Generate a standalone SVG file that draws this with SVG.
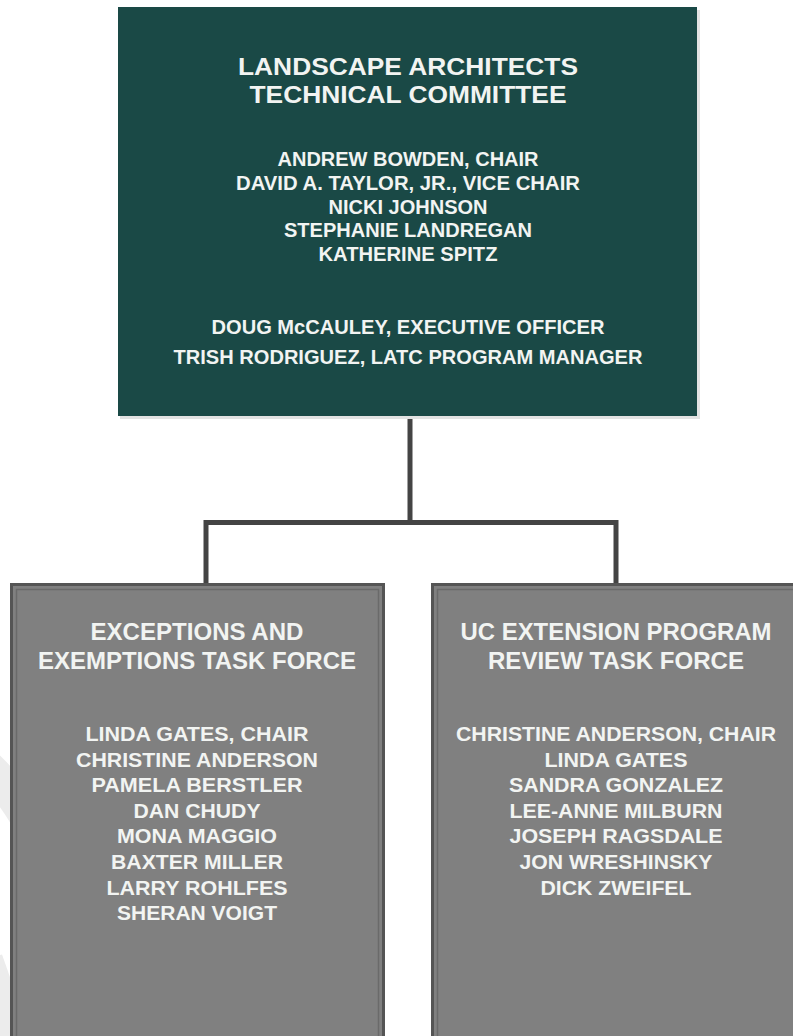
<svg xmlns="http://www.w3.org/2000/svg" width="793" height="1036" viewBox="0 0 793 1036">
<style>
text{font-family:"Liberation Sans",Arial,sans-serif;font-weight:bold;fill:#f2f4f2;text-anchor:middle}
.t1{font-size:24px}
.n1{font-size:20px}
.t2{font-size:23px}
.n2{font-size:20px}
.conn{fill:none;stroke:#444;stroke-width:5;stroke-linecap:butt;stroke-linejoin:miter}
.gbox{fill:#808080;stroke:#555;stroke-width:3}
.ginner{fill:none;stroke:#6a6a6a;stroke-width:1.5}
.wm{fill:none;stroke:#ececec;stroke-width:34}
</style>
<rect width="793" height="1036" fill="#ffffff"/>
<path class="wm" d="M -20 760 A 230 230 0 0 1 40 1020"/>
<path class="wm" d="M -14 960 L 14 1040"/>
<g id="connectors">
<path class="conn" d="M410 416 V522.5 M204 522.5 H618 M206 520 V583 M616 520 V583"/>
</g>
<g id="latc">
<rect x="120" y="10" width="580" height="409" fill="#e2e2e2"/>
<rect x="118" y="7" width="579" height="409" fill="#1a4946"/>
<text class="t1" x="408" y="75" textLength="340" lengthAdjust="spacingAndGlyphs">LANDSCAPE ARCHITECTS</text>
<text class="t1" x="408" y="103" textLength="317" lengthAdjust="spacingAndGlyphs">TECHNICAL COMMITTEE</text>
<text class="n1" x="408" y="166" textLength="261" lengthAdjust="spacingAndGlyphs">ANDREW BOWDEN, CHAIR</text>
<text class="n1" x="408" y="190" textLength="344" lengthAdjust="spacingAndGlyphs">DAVID A. TAYLOR, JR., VICE CHAIR</text>
<text class="n1" x="408" y="213.5" textLength="159" lengthAdjust="spacingAndGlyphs">NICKI JOHNSON</text>
<text class="n1" x="408" y="237" textLength="248" lengthAdjust="spacingAndGlyphs">STEPHANIE LANDREGAN</text>
<text class="n1" x="408" y="261" textLength="179" lengthAdjust="spacingAndGlyphs">KATHERINE SPITZ</text>
<text class="n1" x="408" y="334" textLength="393" lengthAdjust="spacingAndGlyphs">DOUG McCAULEY, EXECUTIVE OFFICER</text>
<text class="n1" x="408" y="364" textLength="469" lengthAdjust="spacingAndGlyphs">TRISH RODRIGUEZ, LATC PROGRAM MANAGER</text>
</g>
<g id="exceptions-task-force">
<rect class="gbox" x="11.5" y="584.5" width="372" height="470"/>
<rect class="ginner" x="16.5" y="589.5" width="362" height="460"/>
<text class="t2" x="197" y="640" textLength="213" lengthAdjust="spacingAndGlyphs">EXCEPTIONS AND</text>
<text class="t2" x="197" y="669" textLength="318" lengthAdjust="spacingAndGlyphs">EXEMPTIONS TASK FORCE</text>
<text class="n2" x="197" y="741" textLength="223" lengthAdjust="spacingAndGlyphs">LINDA GATES, CHAIR</text>
<text class="n2" x="197" y="766.6" textLength="242" lengthAdjust="spacingAndGlyphs">CHRISTINE ANDERSON</text>
<text class="n2" x="197" y="792.2" textLength="211" lengthAdjust="spacingAndGlyphs">PAMELA BERSTLER</text>
<text class="n2" x="197" y="817.8" textLength="127" lengthAdjust="spacingAndGlyphs">DAN CHUDY</text>
<text class="n2" x="197" y="843.4" textLength="160" lengthAdjust="spacingAndGlyphs">MONA MAGGIO</text>
<text class="n2" x="197" y="869" textLength="172" lengthAdjust="spacingAndGlyphs">BAXTER MILLER</text>
<text class="n2" x="197" y="894.6" textLength="181" lengthAdjust="spacingAndGlyphs">LARRY ROHLFES</text>
<text class="n2" x="197" y="920.2" textLength="160" lengthAdjust="spacingAndGlyphs">SHERAN VOIGT</text>
</g>
<g id="uc-extension-task-force">
<rect class="gbox" x="432.5" y="584.5" width="372" height="470"/>
<rect class="ginner" x="437.5" y="589.5" width="362" height="460"/>
<text class="t2" x="616" y="640" textLength="311" lengthAdjust="spacingAndGlyphs">UC EXTENSION PROGRAM</text>
<text class="t2" x="616" y="669" textLength="256" lengthAdjust="spacingAndGlyphs">REVIEW TASK FORCE</text>
<text class="n2" x="616" y="741" textLength="320" lengthAdjust="spacingAndGlyphs">CHRISTINE ANDERSON, CHAIR</text>
<text class="n2" x="616" y="766.6" textLength="143" lengthAdjust="spacingAndGlyphs">LINDA GATES</text>
<text class="n2" x="616" y="792.2" textLength="214" lengthAdjust="spacingAndGlyphs">SANDRA GONZALEZ</text>
<text class="n2" x="616" y="817.8" textLength="213" lengthAdjust="spacingAndGlyphs">LEE-ANNE MILBURN</text>
<text class="n2" x="616" y="843.4" textLength="213" lengthAdjust="spacingAndGlyphs">JOSEPH RAGSDALE</text>
<text class="n2" x="616" y="869" textLength="193" lengthAdjust="spacingAndGlyphs">JON WRESHINSKY</text>
<text class="n2" x="616" y="894.6" textLength="151" lengthAdjust="spacingAndGlyphs">DICK ZWEIFEL</text>
</g>
</svg>
